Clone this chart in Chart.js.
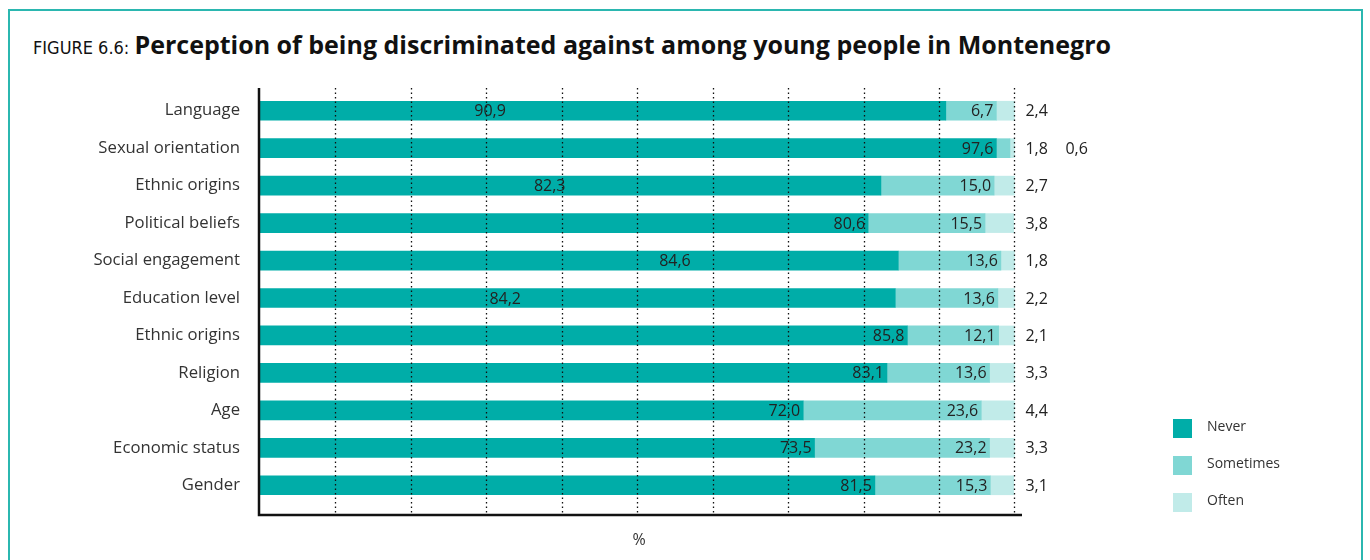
<!DOCTYPE html>
<html>
<head>
<meta charset="utf-8">
<script src="https://cdn.jsdelivr.net/npm/chart.js@4"></script>
<style>
  html, body { margin: 0; padding: 0; background: #fff; }
  #wrap { position: relative; width: 1370px; height: 560px; overflow: hidden; }
  #frame { position: absolute; left: 8px; top: 9px; width: 1355px; height: 600px; border: 2px solid #2bb7b0; box-sizing: border-box; }
  #title { position: absolute; left: 33px; top: 27px; white-space: nowrap; color: #111; font-family: "Open Sans", sans-serif; }
  #title .fig { font-family: "DejaVu Sans Condensed", "DejaVu Sans", sans-serif; font-size: 18px; font-stretch: condensed; font-weight: 300; }
  #title .main { font-size: 25px; font-weight: 700; }
  #legend { position: absolute; left: 1173px; top: 419px; font-family: "Open Sans", sans-serif; font-size: 14px; color: #333; }
  #legend div { height: 37px; position: relative; }
  #legend span.box { position: absolute; left: 0; top: 0; width: 19px; height: 19px; }
  #legend span.txt { position: absolute; left: 34px; top: -3px; }
  canvas { position: absolute; left: 0; top: 0; }
</style>
</head>
<body>
<div id="wrap">
  <div id="frame"></div>
  <div id="title"><span class="fig">FIGURE 6.6: </span><span class="main">Perception of being discriminated against among young people in Montenegro</span></div>
  <canvas id="myChart" width="1370" height="560"></canvas>
  <div id="legend"></div>
</div>
<script>
// data
var categories = ["Language", "Sexual orientation", "Ethnic origins", "Political beliefs", "Social engagement",
    "Education level", "Ethnic origins", "Religion", "Age", "Economic status", "Gender"];
var never = [90.9, 97.6, 82.3, 80.6, 84.6, 84.2, 85.8, 83.1, 72.0, 73.5, 81.5];
var sometimes = [6.7, 1.8, 15.0, 15.5, 13.6, 13.6, 12.1, 13.6, 23.6, 23.2, 15.3];
var often = [2.4, 0.6, 2.7, 3.8, 1.8, 2.2, 2.1, 3.3, 4.4, 3.3, 3.1];
var seriesNames = ["Never", "Sometimes", "Often"];
var gridTicks = [10, 20, 30, 40, 50, 60, 70, 80, 90, 100];

// where the "Never" label sits in the original (value on the axis, null = at bar end)
var neverLabelCenter = [30.5, null, 38.4, null, 55, 32.5, null, null, null, null, null];

var colors = ['#00ada8', '#80d7d4', '#c1ebe9'];

function fmt(v) {
    return v.toFixed(1).replace('.', ',');
}

var lblFont = '16px "Open Sans", sans-serif';

var overlay = {
    id: 'overlay',
    afterDatasetsDraw: function (chart) {
        var ctx = chart.ctx;
        var x = chart.scales.x;
        var y = chart.scales.y;
        var area = chart.chartArea;
        var top = area.top - 4;
        var bottom = area.bottom + 10;
        ctx.save();

        // dotted grid on top of bars
        ctx.strokeStyle = '#111';
        ctx.lineWidth = 1.3;
        ctx.setLineDash([1.5, 3]);
        gridTicks.forEach(function (t) {
            var px = Math.round(x.getPixelForValue(t)) + 0.5;
            ctx.beginPath();
            ctx.moveTo(px, top);
            ctx.lineTo(px, bottom);
            ctx.stroke();
        });
        ctx.setLineDash([]);

        // axes
        ctx.strokeStyle = '#111';
        ctx.lineWidth = 2.5;
        ctx.beginPath();
        ctx.moveTo(area.left - 1, top);
        ctx.lineTo(area.left - 1, bottom + 1);
        ctx.lineTo(area.right, bottom + 1);
        ctx.stroke();

        // value labels
        ctx.font = lblFont;
        ctx.fillStyle = '#222';
        ctx.textBaseline = 'middle';
        var outsideX = x.getPixelForValue(100) + 11;
        categories.forEach(function (c, i) {
            var cy = y.getPixelForValue(i) + 1;
            var n = never[i], s = sometimes[i], o = often[i];
            if (neverLabelCenter[i] != null) {
                ctx.textAlign = 'center';
                ctx.fillText(fmt(n), x.getPixelForValue(neverLabelCenter[i]), cy);
            } else {
                ctx.textAlign = 'right';
                ctx.fillText(fmt(n), x.getPixelForValue(n) - 3, cy);
            }
            var ox = outsideX;
            if (s < 3) {
                ctx.textAlign = 'left';
                ctx.fillText(fmt(s), ox, cy);
                ox += 40;
            } else {
                ctx.textAlign = 'right';
                ctx.fillText(fmt(s), x.getPixelForValue(n + s) - 3, cy);
            }
            ctx.textAlign = 'left';
            ctx.fillText(fmt(o), ox, cy);
        });

        // axis title
        ctx.textAlign = 'center';
        ctx.font = '16px "Open Sans", sans-serif';
        ctx.fillStyle = '#333';
        ctx.fillText('%', (area.left + area.right) / 2 - 2, 540);
        ctx.restore();
    }
};

var ctx = document.getElementById('myChart').getContext('2d');

var myChart = new Chart(ctx, {
    type: 'bar',
    data: {
        labels: categories,
        datasets: [
            { label: seriesNames[0], data: never, backgroundColor: colors[0] },
            { label: seriesNames[1], data: sometimes, backgroundColor: colors[1] },
            { label: seriesNames[2], data: often, backgroundColor: colors[2] }
        ]
    },
    options: {
        indexAxis: 'y',
        responsive: false,
        animation: false,
        layout: {
            padding: { left: 0, right: 348, top: 92, bottom: 56 }
        },
        datasets: {
            bar: { barThickness: 19, borderWidth: 0 }
        },
        scales: {
            x: {
                stacked: true,
                min: 0,
                max: 101,
                display: false
            },
            y: {
                stacked: true,
                grid: { display: false, drawTicks: false },
                border: { display: false },
                afterFit: function (scale) {
                    scale.width = 260;
                },
                ticks: {
                    padding: 20,
                    color: '#333',
                    font: { family: '"Open Sans", sans-serif', size: 16.7 }
                }
            }
        },
        plugins: {
            legend: { display: false },
            tooltip: { enabled: false }
        }
    },
    plugins: [overlay]
});

// legend built from the datasets
var leg = document.getElementById('legend');
myChart.data.datasets.forEach(function (ds) {
    var row = document.createElement('div');
    row.innerHTML = '<span class="box" style="background:' + ds.backgroundColor + '"></span><span class="txt">' + ds.label + '</span>';
    leg.appendChild(row);
});
</script>
</body>
</html>
